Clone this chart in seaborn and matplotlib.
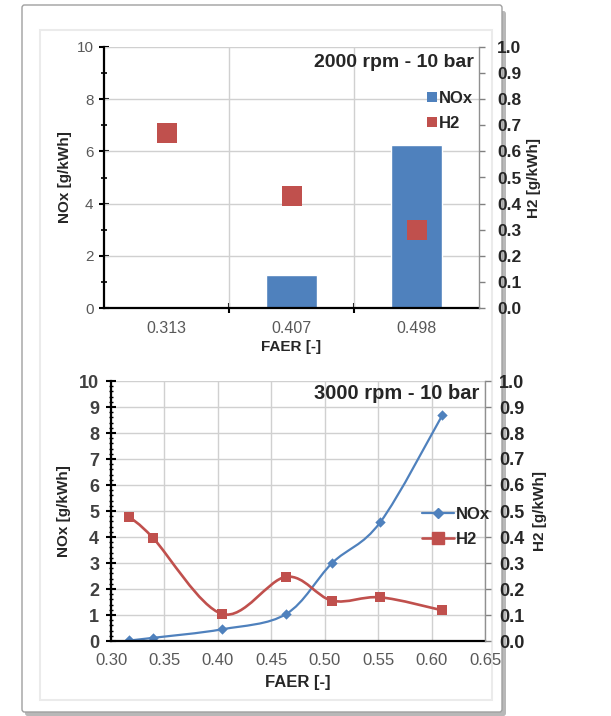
import numpy as np
import pandas as pd
import matplotlib
matplotlib.use("Agg")
import matplotlib.pyplot as plt
import seaborn as sns
from matplotlib.path import Path
from matplotlib.patches import PathPatch, FancyBboxPatch, Rectangle, Patch
from matplotlib.lines import Line2D
from matplotlib.ticker import MultipleLocator, FormatStrFormatter

# ---------------- data ----------------
top_faer = ["0.313", "0.407", "0.498"]
top_nox = [0.05, 1.28, 6.25]
top_h2 = [0.67, 0.43, 0.30]

bot_faer = [0.317, 0.339, 0.404, 0.464, 0.507, 0.552, 0.610]
bot_nox = [0.02, 0.12, 0.45, 1.04, 3.00, 4.57, 8.68]
bot_h2 = [0.478, 0.398, 0.104, 0.247, 0.155, 0.168, 0.118]

title_top = "2000 rpm - 10 bar"
title_bot = "3000 rpm - 10 bar"

BLUE = "#4F81BD"
RED = "#C0504D"
GRID = "#D0D0D0"
TICKGRAY = "#595959"
DARK = "#262626"

sns.set_theme(style="white")
plt.rcParams["font.family"] = ["Liberation Sans", "DejaVu Sans"]

fig = plt.figure(figsize=(6.11, 7.16), dpi=100)
fig.patch.set_facecolor("white")

W, H = 611.0, 716.0
def fx(px): return px / W
def fy(py): return 1 - py / H

# outer frame with shadow
shadow = FancyBboxPatch((fx(25), fy(716)), fx(481), (713 - 8) / H,
                        boxstyle="round,pad=0,rounding_size=0.004",
                        transform=fig.transFigure, facecolor="#B8B8B8",
                        edgecolor="none", zorder=-3)
frame = FancyBboxPatch((fx(22), fy(712)), fx(480), (712 - 5) / H,
                       boxstyle="round,pad=0,rounding_size=0.004",
                       transform=fig.transFigure, facecolor="white",
                       edgecolor="#A0A0A0", linewidth=1.0, zorder=-2)
inner = Rectangle((fx(40), fy(700)), fx(452), (700 - 30) / H,
                  transform=fig.transFigure, facecolor="none",
                  edgecolor="#EBEBEB", linewidth=1.5, zorder=-1)
fig.patches.extend([shadow, frame, inner])

def smooth_path(xs, ys):
    xs = np.asarray(xs, float); ys = np.asarray(ys, float)
    n = len(xs)
    verts = [(xs[0], ys[0])]
    codes = [Path.MOVETO]
    for i in range(n - 1):
        i0 = max(i - 1, 0); i3 = min(i + 2, n - 1)
        c1 = (xs[i] + (xs[i + 1] - xs[i0]) / 6, ys[i] + (ys[i + 1] - ys[i0]) / 6)
        c2 = (xs[i + 1] - (xs[i3] - xs[i]) / 6, ys[i + 1] - (ys[i3] - ys[i]) / 6)
        verts += [c1, c2, (xs[i + 1], ys[i + 1])]
        codes += [Path.CURVE4] * 3
    return Path(verts, codes)

# ---------------- top chart ----------------
ax1 = fig.add_axes([fx(104), fy(308), fx(479) - fx(104), fy(47) - fy(308)])
ax1.set_facecolor("none")
df_top = pd.DataFrame({"FAER": top_faer, "NOx": top_nox})
sns.barplot(data=df_top, x="FAER", y="NOx", color=BLUE, saturation=1,
            width=0.41, ax=ax1, zorder=3)
ax1.set_xlim(-0.5, 2.5)
ax1.set_ylim(0, 10)
ax1.yaxis.set_major_locator(MultipleLocator(2))
ax1.yaxis.set_minor_locator(MultipleLocator(1))
ax1.set_xticks([0.5, 1.5], minor=True)
for y in [2, 4, 6, 8, 10]:
    ax1.axhline(y, color=GRID, lw=1.0, zorder=1)
for x in [0.5, 1.5]:
    ax1.axvline(x, color=GRID, lw=1.0, zorder=1)
ax1.tick_params(axis="y", which="major", direction="inout", length=7, width=1.5,
                color="black", labelsize=11, labelcolor=TICKGRAY, pad=4)
ax1.tick_params(axis="y", which="minor", direction="inout", length=4, width=1.2,
                color="black", left=True)
ax1.tick_params(axis="x", which="major", length=0, labelsize=11.5,
                labelcolor=TICKGRAY, pad=9)
ax1.tick_params(axis="x", which="minor", direction="inout", length=7, width=1.5,
                color="black", bottom=True)
ax1.set_xlabel("FAER [-]", fontsize=11, fontweight="bold", color=DARK, labelpad=3)
ax1.set_ylabel("NOx [g/kWh]", fontsize=11, fontweight="bold", color=DARK, labelpad=3)
for s in ["top", "right"]:
    ax1.spines[s].set_visible(False)
for s in ["left", "bottom"]:
    ax1.spines[s].set_color("black"); ax1.spines[s].set_linewidth(1.6)
    ax1.spines[s].set_zorder(5)

ax1b = ax1.twinx()
sns.scatterplot(x=np.arange(len(top_faer)), y=top_h2, marker="s", s=210,
                color=RED, edgecolor=RED, linewidth=0, ax=ax1b, zorder=4)
ax1b.set_ylim(0, 1.0)
ax1b.yaxis.set_major_locator(MultipleLocator(0.1))
ax1b.yaxis.set_major_formatter(FormatStrFormatter("%.1f"))
ax1b.tick_params(axis="y", direction="out", length=4, width=1.0, color="#808080",
                 labelsize=12.5, labelcolor=DARK, pad=9, right=True)
for lab in ax1b.get_yticklabels():
    lab.set_fontweight("bold")
ax1b.set_ylabel("H2 [g/kWh]", fontsize=11, fontweight="bold", color=DARK, labelpad=4)
for s in ["top", "left", "bottom"]:
    ax1b.spines[s].set_visible(False)
ax1b.spines["right"].set_color("#909090"); ax1b.spines["right"].set_linewidth(1.0)
ax1b.text(0.985, 0.94, title_top, transform=ax1.transAxes, ha="right", va="center",
          fontsize=14, fontweight="bold", color=DARK)
h_top = [Patch(facecolor=BLUE, edgecolor="none", label="NOx"),
         Patch(facecolor=RED, edgecolor="none", label="H2")]
leg1 = ax1b.legend(handles=h_top, loc="center left", bbox_to_anchor=(0.84, 0.755),
                   frameon=False, fontsize=12, handlelength=0.55, handleheight=0.55,
                   handletextpad=0.15, labelspacing=0.6, borderpad=0)
for t in leg1.get_texts():
    t.set_fontweight("bold"); t.set_color(DARK)

# ---------------- bottom chart ----------------
ax2 = fig.add_axes([fx(111), fy(641), fx(485) - fx(111), fy(381) - fy(641)])
ax2.set_facecolor("none")
ax2.set_xlim(0.30, 0.65)
ax2.set_ylim(0, 10)
ax2.xaxis.set_major_locator(MultipleLocator(0.05))
ax2.xaxis.set_major_formatter(FormatStrFormatter("%.2f"))
ax2.yaxis.set_major_locator(MultipleLocator(1))
ax2.yaxis.set_minor_locator(MultipleLocator(0.2))
ax2.grid(True, which="major", color=GRID, lw=1.0, zorder=1)
ax2.set_axisbelow(True)
ax2.tick_params(axis="y", which="major", direction="inout", length=7, width=1.5,
                color="black", labelsize=13, labelcolor="#404040", pad=5)
ax2.tick_params(axis="y", which="minor", direction="inout", length=3, width=1.0,
                color="black", left=True)
for lab in ax2.get_yticklabels():
    lab.set_fontweight("bold")
ax2.tick_params(axis="x", which="major", direction="inout", length=7, width=1.5,
                color="black", labelsize=12, labelcolor=TICKGRAY, pad=5)
ax2.set_xlabel("FAER [-]", fontsize=12, fontweight="bold", color=DARK, labelpad=5)
ax2.set_ylabel("NOx [g/kWh]", fontsize=11, fontweight="bold", color=DARK, labelpad=6)
for s in ["top", "right"]:
    ax2.spines[s].set_visible(False)
for s in ["left", "bottom"]:
    ax2.spines[s].set_color("black"); ax2.spines[s].set_linewidth(1.6)
    ax2.spines[s].set_zorder(5)

ax2.add_patch(PathPatch(smooth_path(bot_faer, bot_nox), facecolor="none",
                        edgecolor=BLUE, lw=1.6, zorder=3))
sns.scatterplot(x=bot_faer, y=bot_nox, marker="D", s=28, color=BLUE,
                edgecolor=BLUE, linewidth=0, ax=ax2, zorder=4)
ax2.set_xlim(0.30, 0.65)
ax2.set_ylim(0, 10)

ax2b = ax2.twinx()
ax2b.set_ylim(0, 1.0)
ax2b.add_patch(PathPatch(smooth_path(bot_faer, bot_h2), facecolor="none",
                         edgecolor=RED, lw=1.9, zorder=3))
sns.scatterplot(x=bot_faer, y=bot_h2, marker="s", s=60, color=RED,
                edgecolor=RED, linewidth=0, ax=ax2b, zorder=4)
ax2b.set_ylim(0, 1.0)
ax2b.yaxis.set_major_locator(MultipleLocator(0.1))
ax2b.yaxis.set_major_formatter(FormatStrFormatter("%.1f"))
ax2b.tick_params(axis="y", direction="out", length=4, width=1.0, color="#808080",
                 labelsize=13, labelcolor=DARK, pad=6, right=True)
for lab in ax2b.get_yticklabels():
    lab.set_fontweight("bold")
ax2b.set_ylabel("H2 [g/kWh]", fontsize=11, fontweight="bold", color=DARK, labelpad=6)
for s in ["top", "left", "bottom"]:
    ax2b.spines[s].set_visible(False)
ax2b.spines["right"].set_color("#909090"); ax2b.spines["right"].set_linewidth(1.0)
ax2b.text(0.985, 0.952, title_bot, transform=ax2.transAxes, ha="right", va="center",
          fontsize=14.5, fontweight="bold", color=DARK)
h_bot = [Line2D([], [], color=BLUE, lw=1.6, marker="D", markersize=5, label="NOx"),
         Line2D([], [], color=RED, lw=1.9, marker="s", markersize=8, label="H2")]
leg2 = ax2b.legend(handles=h_bot, loc="center left", bbox_to_anchor=(0.81, 0.44),
                   frameon=False, fontsize=12, handlelength=1.9,
                   handletextpad=0.1, labelspacing=0.6, borderpad=0)
for t in leg2.get_texts():
    t.set_fontweight("bold"); t.set_color(DARK)

fig.savefig("out.png", dpi=100, facecolor="white")
